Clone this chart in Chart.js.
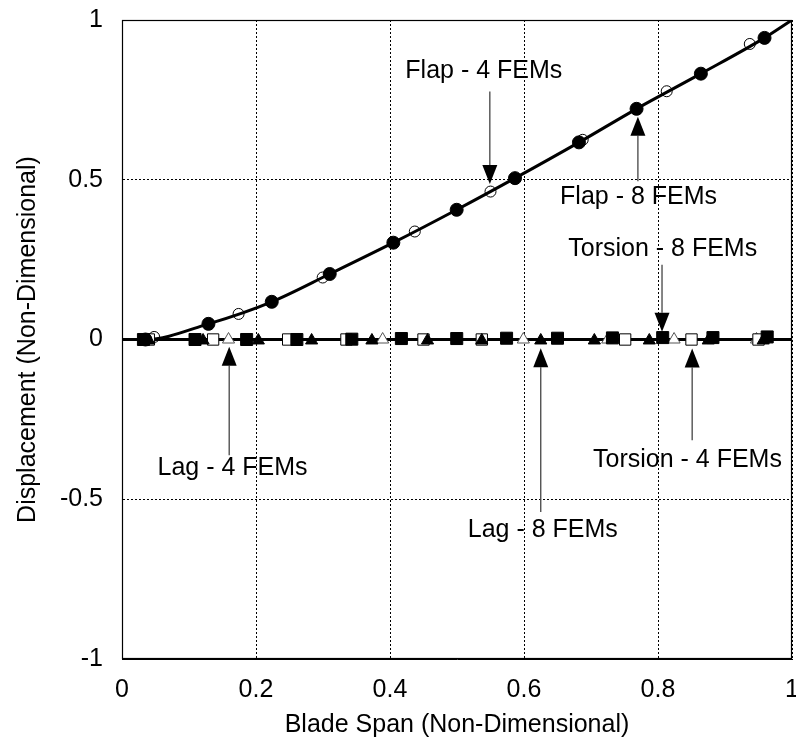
<!DOCTYPE html>
<html>
<head>
<meta charset="utf-8">
<script src="https://cdn.jsdelivr.net/npm/chart.js@4.4.1/dist/chart.umd.min.js"></script>
<style>
  html, body { margin: 0; padding: 0; background: #fff; overflow: hidden; }
  #wrap { width: 796px; height: 746px; overflow: hidden; }
  canvas { display: block; }
</style>
</head>
<body>
<div id="wrap"><canvas id="c" width="796" height="746"></canvas></div>
<script>
// ---- Data ----
const spanTicks = [0, 0.2, 0.4, 0.6, 0.8, 1];
const dispTicks = [-1, -0.5, 0, 0.5, 1];

// Flap - 8 FEMs (filled circles)
const flap8X = [0.035, 0.129, 0.2235, 0.310, 0.405, 0.4995, 0.5866, 0.682, 0.768, 0.864, 0.959];
const flap8Y = [0.000, 0.049, 0.118, 0.205, 0.303, 0.406, 0.505, 0.617, 0.722, 0.832, 0.944];
// Flap - 4 FEMs (open circles)
const flap4X = [0.048, 0.174, 0.2995, 0.437, 0.550, 0.6876, 0.813, 0.937];
const flap4Y = [0.008, 0.080, 0.194, 0.338, 0.463, 0.625, 0.777, 0.925];
// Flap curve (solid line)
const flapCurveX = [0.030, 0.035, 0.129, 0.2235, 0.310, 0.405, 0.4995, 0.5866, 0.682, 0.768, 0.864, 0.959, 1.0];
const flapCurveY = [0.000, 0.000, 0.049, 0.118, 0.205, 0.303, 0.406, 0.505, 0.617, 0.722, 0.832, 0.944, 1.0];

// Torsion - 8 FEMs (filled squares)
const torsion8X = [0.032, 0.109, 0.186, 0.261, 0.343, 0.417, 0.4996, 0.574, 0.650, 0.732, 0.807, 0.882, 0.963];
const torsion8Y = [0.000, 0.000, 0.000, 0.000, 0.001, 0.003, 0.003, 0.004, 0.004, 0.005, 0.006, 0.006, 0.008];
// Torsion - 4 FEMs (open squares)
const torsion4X = [0.040, 0.136, 0.248, 0.335, 0.450, 0.537, 0.751, 0.850, 0.950];
const torsion4Y = [0.000, 0.000, 0.000, 0.000, 0.000, 0.000, 0.000, 0.000, 0.000];
// Lag - 8 FEMs (filled triangles)
const lag8X = [0.040, 0.121, 0.2035, 0.283, 0.373, 0.456, 0.537, 0.625, 0.705, 0.787, 0.875, 0.957];
const lag8Y = [-0.003, -0.003, -0.003, -0.003, -0.003, -0.003, -0.003, -0.003, -0.003, -0.003, -0.003, -0.003];
// Lag - 4 FEMs (open triangles)
const lag4X = [0.159, 0.389, 0.599, 0.725, 0.824, 0.947];
const lag4Y = [0.000, 0.000, 0.000, 0.000, 0.000, 0.000];
// Lag / torsion curve (solid line at zero)
const zeroCurveX = [0, 1];
const zeroCurveY = [0, 0];

// Annotations: label, label centre (x,y), arrow x, arrow start y, arrow tip y
const annLabels = ['Flap - 4 FEMs', 'Flap - 8 FEMs', 'Torsion - 8 FEMs', 'Torsion - 4 FEMs', 'Lag - 8 FEMs', 'Lag - 4 FEMs'];
const annTextX  = [0.540, 0.771, 0.807, 0.844, 0.628, 0.165];
const annTextY  = [0.839, 0.447, 0.284, -0.378, -0.597, -0.403];
const annArrowX = [0.549, 0.770, 0.806, 0.851, 0.625, 0.160];
const annFromY  = [0.776, 0.495, 0.234, -0.315, -0.540, -0.362];
const annTipY   = [0.487, 0.697, 0.024, -0.028, -0.027, -0.023];

// ---- Build ----
const FONT = '"Liberation Sans", Arial, Helvetica, sans-serif';
const pts = (xs, ys) => xs.map((x, i) => ({ x: x, y: ys[i] }));

const framePlugin = {
  id: 'frameAndNotes',
  afterDatasetsDraw(chart) {
    const ctx = chart.ctx;
    const a = chart.chartArea;
    const xs = chart.scales.x, ys = chart.scales.y;
    ctx.save();
    ctx.strokeStyle = '#000';
    ctx.lineWidth = 1.2;
    ctx.setLineDash([]);
    ctx.strokeRect(a.left + 0.5, a.top + 0.5, a.right - a.left - 1, a.bottom - a.top - 1);

    // annotations
    ctx.font = '25px ' + FONT;
    ctx.textAlign = 'center';
    ctx.textBaseline = 'middle';
    annLabels.forEach((t, i) => {
      ctx.fillStyle = '#000';
      ctx.fillText(t, xs.getPixelForValue(annTextX[i]), ys.getPixelForValue(annTextY[i]));
      const ax = xs.getPixelForValue(annArrowX[i]);
      const y0 = ys.getPixelForValue(annFromY[i]);
      const y1 = ys.getPixelForValue(annTipY[i]);
      const dir = y1 > y0 ? 1 : -1;
      const headL = 19, headW = 7.5;
      ctx.strokeStyle = '#444';
      ctx.lineWidth = 1.3;
      ctx.beginPath();
      ctx.moveTo(ax, y0);
      ctx.lineTo(ax, y1 - dir * headL);
      ctx.stroke();
      ctx.beginPath();
      ctx.moveTo(ax, y1);
      ctx.lineTo(ax - headW, y1 - dir * headL);
      ctx.lineTo(ax + headW, y1 - dir * headL);
      ctx.closePath();
      ctx.fill();
    });
    ctx.restore();
  }
};

new Chart(document.getElementById('c'), {
  type: 'scatter',
  data: {
    datasets: [
      { label: 'Flap - 8 FEMs', data: pts(flap8X, flap8Y), pointStyle: 'circle', pointRadius: 6.5,
        backgroundColor: '#000', borderColor: '#000', borderWidth: 1, showLine: false },
      { label: 'Flap - 4 FEMs', data: pts(flap4X, flap4Y), pointStyle: 'circle', pointRadius: 5.5,
        backgroundColor: 'rgba(0,0,0,0)', borderColor: '#000', borderWidth: 1, showLine: false },
      { label: 'Torsion - 8 FEMs', data: pts(torsion8X, torsion8Y), pointStyle: 'rect', pointRadius: 8.5,
        backgroundColor: '#000', borderColor: '#000', borderWidth: 1, showLine: false },
      { label: 'Lag - 8 FEMs', data: pts(lag8X, lag8Y), pointStyle: 'triangle', pointRadius: 7,
        backgroundColor: '#000', borderColor: '#000', borderWidth: 1, showLine: false },
      { label: 'Torsion - 4 FEMs', data: pts(torsion4X, torsion4Y), pointStyle: 'rect', pointRadius: 8,
        backgroundColor: '#fff', borderColor: '#000', borderWidth: 1, showLine: false },
      { label: 'Lag - 4 FEMs', data: pts(lag4X, lag4Y), pointStyle: 'triangle', pointRadius: 7,
        backgroundColor: '#fff', borderColor: '#555', borderWidth: 1, showLine: false },
      { label: 'Flap curve', data: pts(flapCurveX, flapCurveY), showLine: true, pointRadius: 0,
        borderColor: '#000', borderWidth: 3, cubicInterpolationMode: 'monotone', fill: false },
      { label: 'Lag/Torsion curve', data: pts(zeroCurveX, zeroCurveY), showLine: true, pointRadius: 0,
        borderColor: '#000', borderWidth: 3, fill: false }
    ]
  },
  options: {
    responsive: false,
    animation: false,
    events: [],
    layout: { autoPadding: false, padding: { top: 20, right: 4, left: 0, bottom: 0 } },
    plugins: { legend: { display: false }, tooltip: { enabled: false } },
    scales: {
      x: {
        type: 'linear', min: 0, max: 1,
        afterFit: s => { s.height = 87; s.paddingLeft = 0; s.paddingRight = 0; },
        afterBuildTicks: s => { s.ticks = spanTicks.map(v => ({ value: v })); },
        grid: { color: '#000', lineWidth: 1, drawTicks: false },
        border: { display: true, color: '#000', width: 1, dash: [2, 2] },
        ticks: { color: '#000', font: { family: FONT, size: 25 }, padding: 16, maxRotation: 0,
                 callback: v => String(v) },
        title: { display: true, text: 'Blade Span (Non-Dimensional)', color: '#000',
                 font: { family: FONT, size: 25 }, padding: { top: 0, bottom: 6 } }
      },
      y: {
        type: 'linear', min: -1, max: 1,
        afterFit: s => { s.width = 122; s.paddingTop = 0; s.paddingBottom = 0; },
        afterBuildTicks: s => { s.ticks = dispTicks.map(v => ({ value: v })); },
        grid: { color: '#000', lineWidth: 1, drawTicks: false },
        border: { display: true, color: '#000', width: 1, dash: [2, 2] },
        ticks: { color: '#000', font: { family: FONT, size: 25 }, padding: 19,
                 callback: v => String(v) },
        title: { display: true, text: 'Displacement (Non-Dimensional)', color: '#000',
                 font: { family: FONT, size: 25 }, padding: { top: 13, bottom: 0 } }
      }
    }
  },
  plugins: [framePlugin]
});
</script>
</body>
</html>
